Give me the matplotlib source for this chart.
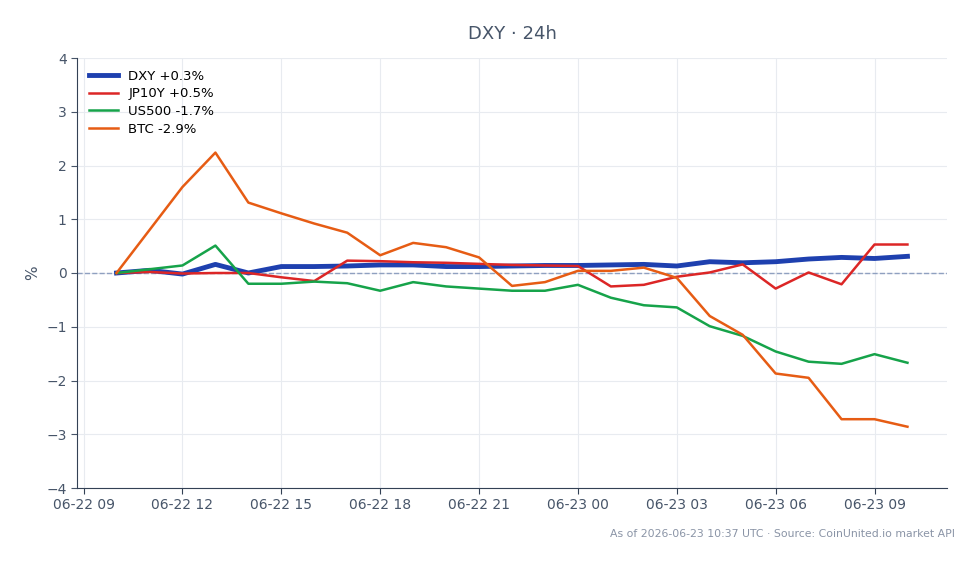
import matplotlib
matplotlib.use('Agg')
import matplotlib.pyplot as plt
import matplotlib.dates as mdates
import pandas as pd

times = pd.date_range('2026-06-22 10:00', '2026-06-23 10:00', freq='h')

dxy = [0.0, 0.05, -0.02, 0.16, 0.0, 0.12, 0.12, 0.13, 0.15, 0.15, 0.12, 0.12, 0.13,
       0.14, 0.14, 0.15, 0.16, 0.13, 0.21, 0.19, 0.21, 0.26, 0.29, 0.27, 0.31]
jp10y = [0.0, 0.02, -0.01, 0.0, 0.0, -0.08, -0.15, 0.23, 0.22, 0.2, 0.19, 0.17, 0.15,
         0.14, 0.13, -0.25, -0.22, -0.07, 0.01, 0.16, -0.29, 0.01, -0.21, 0.53, 0.53]
us500 = [0.0, 0.07, 0.14, 0.51, -0.2, -0.2, -0.16, -0.19, -0.33, -0.17, -0.25, -0.29, -0.33,
         -0.33, -0.22, -0.46, -0.6, -0.64, -0.99, -1.17, -1.46, -1.65, -1.69, -1.51, -1.67]
btc = [0.0, 0.8, 1.6, 2.24, 1.31, 1.11, 0.92, 0.75, 0.33, 0.56, 0.48, 0.29, -0.24,
       -0.17, 0.04, 0.04, 0.1, -0.09, -0.8, -1.15, -1.87, -1.95, -2.72, -2.72, -2.86]

labels = ['DXY +0.3%', 'JP10Y +0.5%', 'US500 -1.7%', 'BTC -2.9%']
colors = ['#1e40af', '#dc2626', '#16a34a', '#e65c14']
txt = '#475569'

fig = plt.figure(figsize=(9.79, 5.64), dpi=100)
ax = fig.add_axes([77/979, 1-488/564, 870/979, 430/564])

ax.axhline(0, color='#8fa0c0', lw=1, ls='--', zorder=1)
ax.plot(times, dxy, color=colors[0], lw=3.5, label=labels[0], zorder=3)
ax.plot(times, jp10y, color=colors[1], lw=1.8, label=labels[1], zorder=4)
ax.plot(times, us500, color=colors[2], lw=1.8, label=labels[2], zorder=4)
ax.plot(times, btc, color=colors[3], lw=1.8, label=labels[3], zorder=4)

ax.set_ylim(-4, 4)
ax.set_yticks(range(-4, 5))
ax.xaxis.set_major_locator(mdates.HourLocator(byhour=range(0, 24, 3)))
ax.xaxis.set_major_formatter(mdates.DateFormatter('%m-%d %H'))

ax.grid(True, color='#e8ebf0', lw=0.8)
ax.set_axisbelow(True)
for s in ['top', 'right']:
    ax.spines[s].set_visible(False)
for s in ['left', 'bottom']:
    ax.spines[s].set_color('#334155')
ax.tick_params(colors=txt, labelsize=10, length=4)
ax.tick_params(axis='x', colors='#334155', labelcolor=txt)

ax.set_ylabel('%', color=txt, fontsize=11)
ax.set_title('DXY · 24h', color=txt, fontsize=13, pad=14)

ax.legend(loc='upper left', frameon=False, fontsize=9.5, handlelength=2.2,
          labelspacing=0.35, borderaxespad=0.5)

fig.text(955/979, 1-534/564, 'As of 2026-06-23 10:37 UTC · Source: CoinUnited.io market API',
         ha='right', va='center', fontsize=7.8, color='#8a94a6')

fig.savefig('out.png', dpi=100)
